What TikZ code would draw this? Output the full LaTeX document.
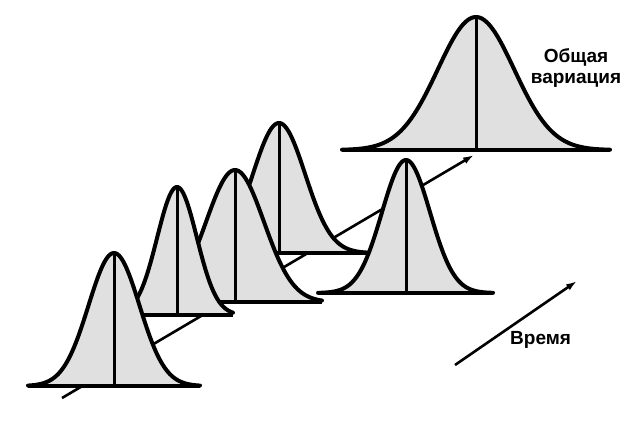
\documentclass[tikz,border=0pt]{standalone}
\usepackage{fontspec}
\setmainfont{Liberation Sans}
\usetikzlibrary{arrows.meta}
\tikzset{
  curvefill/.style={fill=black!12},
  curveline/.style={draw=black, line width=4pt, line join=round, line cap=round},
  baseln/.style={draw=black, line width=4.5pt},
  centerln/.style={draw=black, line width=3pt},
  trend/.style={draw=black, line width=2.6pt, -{Latex[length=11pt,width=7pt]}},
  lbl/.style={font=\fontsize{19}{22}\selectfont\bfseries, inner sep=0pt},
}
% #1 peak x, #2 baseline y, #3 height, #4 width, #5 left end, #6 right end
\newcommand{\bellcurve}[6]{%
  \fill[curvefill] (#5,#2) -- plot[domain=#5:#6, samples=120] (\x, {#2-#3*exp(-((\x-#1)/#4)*((\x-#1)/#4))}) -- (#6,#2) -- cycle;
  \draw[centerln] (#1,#2) -- (#1,#2-#3);
  \draw[baseln] (#5,#2) -- (#6,#2);
  \draw[curveline] plot[domain=#5:#6, samples=120] (\x, {#2-#3*exp(-((\x-#1)/#4)*((\x-#1)/#4))});
}
\begin{document}
\begin{tikzpicture}[x=1pt,y=-1pt]
\fill[white] (0,0) rectangle (636,424);
\useasboundingbox (0,0) rectangle (636,424);
\coordinate (ts) at (62,398);
\coordinate (te) at (474,155);
\draw[trend] (ts) -- (te);
\bellcurve{476}{150}{133}{54}{342}{610}
\bellcurve{279}{253}{130}{37}{200}{370}
\bellcurve{406}{293}{133}{34}{318}{493}
\bellcurve{235}{302}{132}{41}{148}{322}
\bellcurve{177}{315}{128}{28}{121}{233}
\bellcurve{114}{386}{133}{36}{28}{200}
\coordinate (ta) at (455,365);
\coordinate (tb) at (577,281);
\draw[trend] (ta) -- (tb);
\node[lbl] (t1) at (576,57) {Общая};
\node[lbl] (t2) at (576,80) {вариация};
\node[lbl, anchor=west] (t3) at (510,340) {Время};
\end{tikzpicture}
\end{document}
